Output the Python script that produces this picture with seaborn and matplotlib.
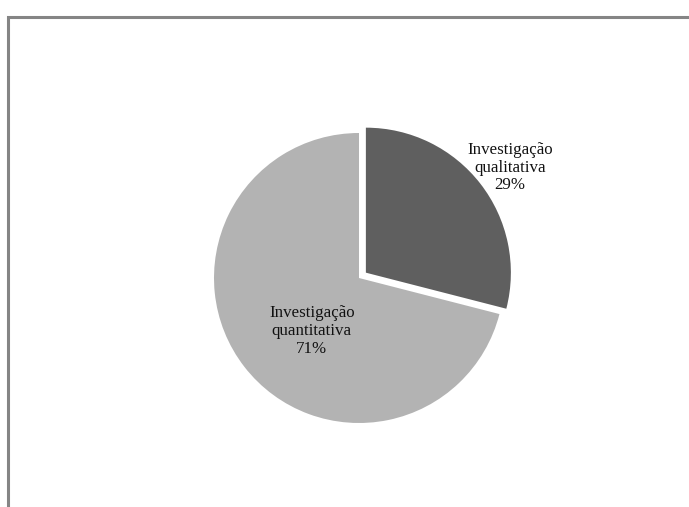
import numpy as np
import matplotlib
matplotlib.use("Agg")
import matplotlib.pyplot as plt
from matplotlib.patches import Rectangle
import seaborn as sns

# Research type shares
categories = ["Investigação\nqualitativa", "Investigação\nquantitativa"]
shares = [29, 71]
colors = ["#5f5f5f", "#b3b3b3"]

sns.set_theme(style="white")
plt.rcParams["font.family"] = ["Liberation Serif", "DejaVu Serif"]

W, H = 689, 507
fig = plt.figure(figsize=(W / 100, H / 100), dpi=100)
ax = fig.add_axes([0, 0, 1, 1])

wedges, _ = ax.pie(
    shares,
    colors=colors,
    startangle=90,
    counterclock=False,
    explode=[0.06, 0],
    radius=1.0,
    wedgeprops=dict(linewidth=0),
)

# label placement (radius, angle in degrees) relative to each wedge's centre
label_polar = [(1.229, 36.1), (0.489, 228.4)]
for w, cat, val, (r, ang) in zip(wedges, categories, shares, label_polar):
    cx, cy = w.center
    a = np.deg2rad(ang)
    ax.text(cx + r * np.cos(a), cy + r * np.sin(a), f"{cat}\n{val}%",
            ha="center", va="center", fontsize=12.2, linespacing=1.13,
            color="#111111")

# pie centre at pixel (359, 278) from top-left, radius 145 px
R = 145.0
cxp, cyp = 359.0, 278.0
ax.set_xlim(-cxp / R, (W - cxp) / R)
ax.set_ylim(-(H - cyp) / R, cyp / R)
ax.set_aspect("auto")
ax.axis("off")

# outer frame
fig.patches.append(Rectangle((7.5 / W, -0.1), 1.2, (H - 16.5) / H + 0.1,
                             transform=fig.transFigure, fill=False,
                             edgecolor="#858585", linewidth=2.2))

fig.savefig("out.png", dpi=100)
